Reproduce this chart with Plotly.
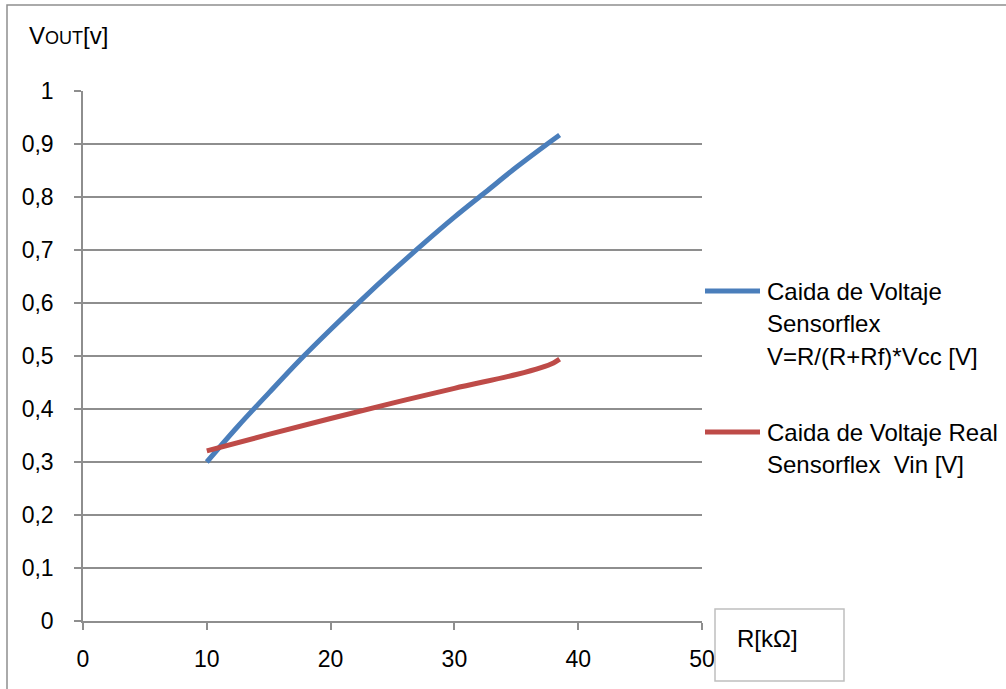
import plotly.graph_objects as go

# Resistance of the flex sensor, kOhm
r_teorico = [10, 12.5, 15, 17.5, 20, 22.5, 25, 27.5, 30, 32.5, 35, 37.5, 38.5]
# Theoretical divider drop V = R/(R+Rf)*Vcc, volts
v_teorico = [0.300, 0.367, 0.430, 0.492, 0.550, 0.606, 0.660, 0.712, 0.762, 0.809, 0.856, 0.900, 0.917]

r_real = [10, 15, 20, 25, 30, 35, 37, 38, 38.5]
# Measured drop Vin, volts
v_real = [0.321, 0.352, 0.382, 0.411, 0.439, 0.465, 0.478, 0.487, 0.494]

x_ticks = [0, 10, 20, 30, 40, 50]
y_ticks = [0, 0.1, 0.2, 0.3, 0.4, 0.5, 0.6, 0.7, 0.8, 0.9, 1]

serie_teorica = ["Caida de Voltaje", "Sensorflex", "V=R/(R+Rf)*Vcc [V]"]
serie_real = ["Caida de Voltaje Real", "Sensorflex  Vin [V]"]

AZUL = "#4A7EBB"
ROJO = "#BE4B48"
GRIS = "#8E8E8E"
FUENTE = "Liberation Sans"

W, H = 1006, 689
L, R, T, B = 83, 304, 91, 68
pw, ph = W - L - R, H - T - B


def px(x):
    return (x - L) / pw


def py(y):
    return (H - B - y) / ph


fig = go.Figure()
fig.add_trace(go.Scatter(x=r_teorico, y=v_teorico, mode="lines",
                         line=dict(color=AZUL, width=5, shape="spline"),
                         showlegend=False))
fig.add_trace(go.Scatter(x=r_real, y=v_real, mode="lines",
                         line=dict(color=ROJO, width=5, shape="spline"),
                         showlegend=False))

shapes = [
    # outer chart frame
    dict(type="rect", xref="paper", yref="paper", x0=px(7), y0=py(5), x1=1.6, y1=-0.2,
         line=dict(color=GRIS, width=1.5), fillcolor="rgba(0,0,0,0)", layer="below"),
    # axis title box
    dict(type="rect", xref="paper", yref="paper", x0=px(715), y0=py(609), x1=px(844), y1=py(681),
         line=dict(color="#BFBFBF", width=1.5), fillcolor="white"),
    # legend keys
    dict(type="line", xref="paper", yref="paper", x0=px(705), x1=px(760), y0=py(291), y1=py(291),
         line=dict(color=AZUL, width=5)),
    dict(type="line", xref="paper", yref="paper", x0=px(705), x1=px(760), y0=py(432), y1=py(432),
         line=dict(color=ROJO, width=5)),
]

annotations = [
    dict(text="V<span style='font-size:18px'>OUT</span>[v]", x=px(27), y=py(36),
         xref="paper", yref="paper", xanchor="left", yanchor="middle", showarrow=False,
         font=dict(family=FUENTE, size=24, color="black")),
    dict(text="R[kΩ]", x=px(735), y=py(638),
         xref="paper", yref="paper", xanchor="left", yanchor="middle", showarrow=False,
         font=dict(family=FUENTE, size=24, color="black")),
]
for i, t in enumerate(serie_teorica):
    annotations.append(dict(text=t, x=px(765), y=py(291 + 32.5 * i), xref="paper", yref="paper",
                            xanchor="left", yanchor="middle", showarrow=False,
                            font=dict(family=FUENTE, size=24, color="black")))
for i, t in enumerate(serie_real):
    annotations.append(dict(text=t, x=px(765), y=py(432 + 32.5 * i), xref="paper", yref="paper",
                            xanchor="left", yanchor="middle", showarrow=False,
                            font=dict(family=FUENTE, size=24, color="black")))

fig.update_layout(
    width=W, height=H,
    margin=dict(l=L, r=R, t=T, b=B, pad=0),
    paper_bgcolor="white", plot_bgcolor="white",
    separators=",.",
    font=dict(family=FUENTE, size=23, color="black"),
    shapes=shapes, annotations=annotations,
    xaxis=dict(range=[0, 50], tickvals=x_ticks, showgrid=False, zeroline=False,
               showline=True, linecolor=GRIS, linewidth=1.5,
               ticks="outside", ticklen=7, tickcolor=GRIS, tickwidth=1.5,
               ticklabelstandoff=10, fixedrange=True),
    yaxis=dict(range=[0, 1], tickvals=y_ticks, showgrid=True, gridcolor=GRIS, gridwidth=1.5,
               zeroline=False, showline=True, linecolor=GRIS, linewidth=1.5,
               ticks="outside", ticklen=7, tickcolor=GRIS, tickwidth=1.5,
               ticklabelstandoff=16, fixedrange=True),
)

fig.write_html("out.html")
